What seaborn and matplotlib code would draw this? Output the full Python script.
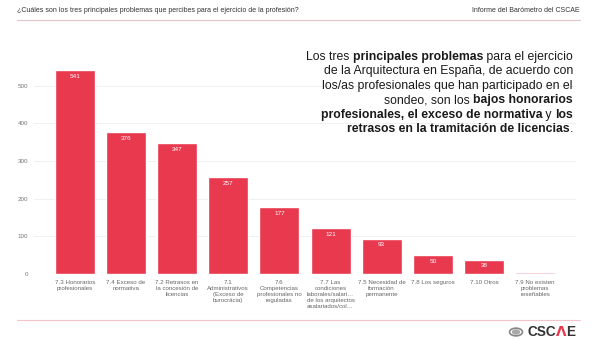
import numpy as np
import matplotlib
matplotlib.use("Agg")
import matplotlib.pyplot as plt
import seaborn as sns
import pandas as pd

# Daten
categorias = [
    "7.3 Honorarios\nprofesionales",
    "7.4 Exceso de\nnormativa",
    "7.2 Retrasos en\nla concesión de\nlicencias",
    "7.1\nAdministrativos\n(Exceso de\nburocrácia)",
    "7.6\nCompetencias\nprofesionales no\nreguladas",
    "7.7 Las\ncondiciones\nlaborales/salari…\nde los arquitectos\nasalariados/col…",
    "7.5 Necesidad de\nformación\npermanente",
    "7.8 Los seguros",
    "7.10 Otros",
    "7.9 No existen\nproblemas\nreseñables",
]
valores = [541, 376, 347, 257, 177, 121, 93, 50, 38, 4]
y_ticks = [0, 100, 200, 300, 400, 500]

titulo = "¿Cuáles son los tres principales problemas que percibes para el ejercicio de la profesión?"
informe = "Informe del Barómetro del CSCAE"

# texto destacado: lista de (texto, negrita) por línea
lineas = [
    [("Los tres ", False), ("principales problemas", True), (" para el ejercicio", False)],
    [("de la Arquitectura en España, de acuerdo con", False)],
    [("los/as profesionales que han participado en el", False)],
    [("sondeo, son los ", False), ("bajos honorarios", True)],
    [("profesionales, el exceso de normativa", True), (" y ", False), ("los", True)],
    [("retrasos en la tramitación de licencias", True), (".", False)],
]

rojo = "#E8394F"

sns.set_theme(style="white")
plt.rcParams["font.family"] = ["Liberation Sans", "DejaVu Sans"]

df = pd.DataFrame({"cat": categorias, "val": valores})

fig = plt.figure(figsize=(6, 3.56), dpi=100)
ax = fig.add_axes([34 / 600, 82 / 356, 542 / 600, 211 / 356])

colores = [rojo] * (len(valores) - 1) + ["#F3B9C1"]
sns.barplot(data=df, x="cat", y="val", hue="cat", palette=colores, legend=False,
            width=0.78, ax=ax, saturation=1)

ax.set_xlim(-0.8, len(valores) - 0.2)
ax.set_ylim(0, 560)
ax.set_yticks(y_ticks)
ax.grid(axis="y", color="#EEEEEE", linewidth=0.6)
ax.set_axisbelow(True)
for s in ax.spines.values():
    s.set_visible(False)
ax.set_xlabel("")
ax.set_ylabel("")
ax.tick_params(axis="y", labelsize=4.5, labelcolor="#777777", length=0, pad=4)
ax.tick_params(axis="x", labelsize=4.4, labelcolor="#666666", length=0, pad=4)
for lbl in ax.get_xticklabels():
    lbl.set_linespacing(1.3)

for i, v in enumerate(valores):
    if v >= 10:
        ax.text(i, v - 16, str(v), ha="center", va="center", color="white", fontsize=4.6)

# cabecera y líneas
fig.text(17 / 600, 1 - 10 / 356, titulo, fontsize=5, color="#333333", va="center", ha="left")
fig.text(580 / 600, 1 - 10 / 356, informe, fontsize=5, color="#333333", va="center", ha="right")
fig.add_artist(plt.Line2D([17 / 600, 580 / 600], [1 - 20 / 356] * 2, color="#E3C5C9", lw=0.8))
fig.add_artist(plt.Line2D([17 / 600, 580 / 600], [1 - 320 / 356] * 2, color="#F2C4CA", lw=0.8))

# texto destacado, alineado a la derecha con tramos en negrita
fig.canvas.draw()
renderer = fig.canvas.get_renderer()
x_der = 573 / 600
y0 = 57
paso = 14.4
for k, linea in enumerate(lineas):
    y = 1 - (y0 + k * paso) / 356
    x = x_der
    for texto, negrita in reversed(linea):
        t = fig.text(x, y, texto, fontsize=8.8, color="#1A1A1A", ha="right", va="center",
                     fontweight="bold" if negrita else "normal")
        bb = t.get_window_extent(renderer=renderer)
        x -= bb.width / fig.bbox.width

# logo
yl = 1 - 332 / 356
fig.add_artist(plt.Circle((516 / 600, yl), 6.5 / 600, transform=fig.transFigure,
                          fill=False, edgecolor="#888888", lw=1.2))
fig.add_artist(plt.Circle((516 / 600, yl), 3.5 / 600, transform=fig.transFigure,
                          fill=True, color="#AAAAAA"))
t_csc = fig.text(527 / 600, yl, "CSC", fontsize=9.8, fontweight="bold", color="#333333",
                 va="center", ha="left")
bb = t_csc.get_window_extent(renderer=renderer)
t_l = fig.text(bb.x1 / fig.bbox.width, yl, "Λ", fontsize=9.8, fontweight="bold", color=rojo,
               va="center", ha="left", family=["DejaVu Sans"])
bb2 = t_l.get_window_extent(renderer=renderer)
fig.text(bb2.x1 / fig.bbox.width, yl, "E", fontsize=9.8, fontweight="bold",
         color="#333333", va="center", ha="left")

fig.savefig("out.png", dpi=100)
